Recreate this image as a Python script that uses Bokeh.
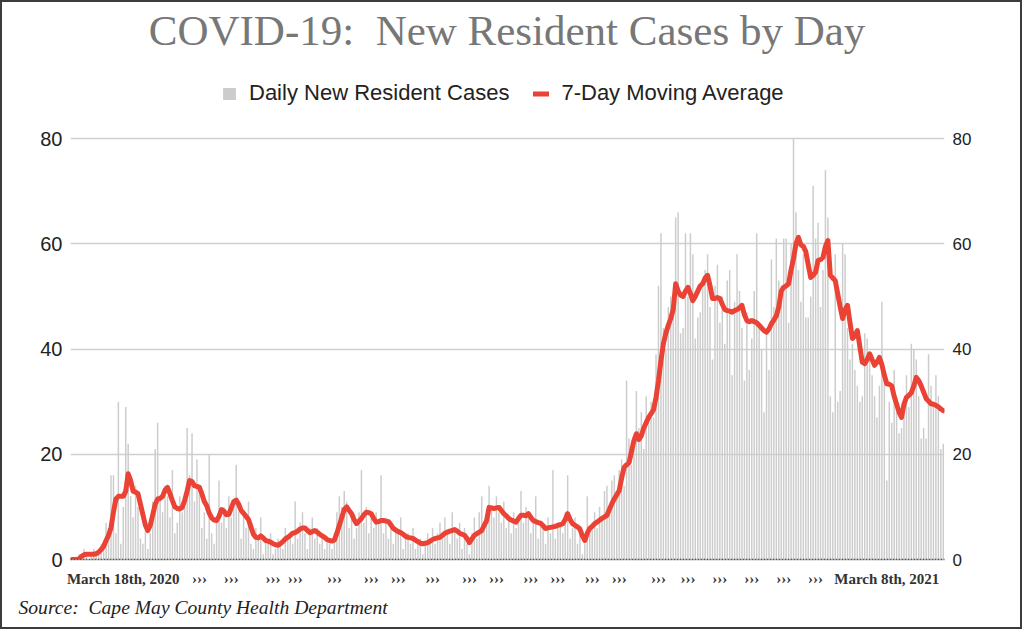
from bokeh.plotting import figure
from bokeh.models import (ColumnDataSource, Range1d, LinearAxis, FixedTicker,
                          Legend, LegendItem, Title, Label)
from bokeh.embed import file_html
from bokeh.resources import INLINE

# ---------------- data ----------------
daily_cases = [
    0, 0, 0, 1, 0, 2, 1, 0, 1, 2,
    1, 2, 3, 2, 7, 6, 16, 16, 5, 30,
    3, 10, 29, 22, 12, 8, 14, 10, 4, 3,
    6, 2, 5, 11, 21, 26, 12, 9, 14, 12,
    8, 17, 5, 7, 12, 9, 10, 25, 16, 24,
    11, 19, 14, 6, 9, 4, 20, 5, 3, 8,
    15, 7, 10, 6, 12, 8, 10, 18, 9, 4,
    9, 6, 11, 3, 2, 6, 4, 8, 1, 4,
    3, 5, 1, 2, 4, 3, 2, 6, 4, 5,
    3, 11, 4, 7, 9, 5, 2, 6, 8, 4,
    6, 3, 5, 2, 4, 3, 2, 5, 9, 12,
    10, 13, 11, 6, 8, 4, 6, 9, 17, 7,
    10, 5, 8, 6, 9, 7, 16, 5, 8, 4,
    7, 3, 6, 5, 8, 2, 4, 5, 3, 6,
    2, 3, 4, 1, 3, 5, 4, 6, 3, 5,
    7, 4, 8, 5, 3, 9, 6, 4, 7, 2,
    6, 3, 1, 5, 8, 4, 9, 12, 6, 9,
    14, 10, 8, 12, 9, 7, 11, 6, 8, 5,
    9, 6, 8, 13, 7, 10, 9, 5, 8, 12,
    4, 7, 6, 3, 8, 5, 17, 4, 6, 7,
    5, 9, 16, 4, 6, 8, 3, 5, 1, 3,
    12, 5, 7, 9, 6, 10, 8, 13, 14, 9,
    15, 16, 12, 17, 19, 14, 34, 23, 18, 23,
    32, 25, 28, 21, 31, 26, 30, 27, 39, 52,
    62, 44, 40, 48, 50, 46, 65, 66, 43, 44,
    62, 50, 62, 58, 42, 46, 47, 52, 55, 58,
    48, 38, 52, 56, 45, 50, 41, 53, 55, 35,
    49, 58, 51, 44, 34, 47, 36, 42, 51, 62,
    45, 40, 28, 44, 36, 57, 48, 61, 53, 52,
    61, 61, 45, 60, 80, 66, 55, 49, 58, 46,
    46, 50, 71, 61, 64, 48, 55, 74, 65, 31,
    28, 58, 30, 32, 60, 58, 44, 38, 41, 36,
    33, 30, 31, 43, 42, 38, 35, 31, 27, 33,
    49, 36, 15, 30, 26, 36, 28, 24, 25, 30,
    35, 29, 41, 40, 38, 31, 23, 25, 23, 39,
    33, 30, 35, 31, 21, 22,
]

moving_avg = [
    0, 0, 0, 0.1, 0.6, 0.9, 1, 1, 1, 1,
    1.1, 1.4, 1.9, 2.5, 3.6, 4.6, 6, 9, 11.5, 12,
    12, 12, 13, 16.3, 15, 13, 12.8, 12.5, 10.5, 8.5,
    6.5, 5.5, 6.5, 8.5, 10.5, 11.5, 11.6, 12, 13.2, 13.7,
    12.5, 11.2, 10, 9.7, 9.6, 9.9, 11.2, 13, 15, 14.8,
    14, 13.9, 13.7, 12.5, 11, 10.2, 8.8, 7.9, 7.5, 7.4,
    8.2, 9.5, 9.2, 8.5, 8.6, 9.8, 11, 11.3, 10.5, 9.3,
    8.8, 8.2, 7.6, 6.2, 4.8, 4.2, 4.1, 4.5, 4.1, 3.6,
    3.5, 3.3, 3.0, 2.8, 2.7, 3.0, 3.4, 3.9, 4.2, 4.6,
    5.0, 5.1, 5.4, 5.8, 6.0, 6.0, 5.5, 5.1, 5.3, 5.5,
    5.2, 4.8, 4.5, 4.2, 3.8, 3.6, 3.5, 3.7, 5.0, 6.5,
    8.0, 9.5, 10, 9.3, 8.7, 7.6, 6.8, 7.3, 7.8, 8.5,
    9, 8.9, 8.7, 7.8, 7.1, 7.2, 7.4, 7.4, 7.3, 7.2,
    6.6, 5.9, 5.6, 5.3, 5.1, 4.8, 4.4, 4.2, 4.1, 4.0,
    3.7, 3.4, 3.1, 3.0, 3.1, 3.2, 3.5, 3.8, 4.0, 4.1,
    4.2, 4.6, 5.0, 5.2, 5.4, 5.5, 5.7, 5.4, 5.0, 4.8,
    4.6, 4.0, 3.2, 3.9, 4.6, 4.9, 5.2, 5.5, 6.5, 7.4,
    9.9, 9.8, 9.7, 9.8, 9.9, 9.3, 8.7, 8.3, 7.8, 7.5,
    7.3, 7.1, 7.8, 8.4, 8.4, 8.3, 8.7, 8.0, 7.4, 7.2,
    7.0, 6.9, 6.4, 5.9, 6.0, 6.1, 6.2, 6.3, 6.5, 6.6,
    6.8, 7.6, 8.7, 7.6, 6.8, 6.5, 6.2, 5.8, 4.5, 3.6,
    5.0, 5.9, 6.3, 6.8, 7.1, 7.5, 7.8, 8.1, 8.4, 9.5,
    10.6, 11.5, 12.3, 13.1, 15.5, 17.5, 18.0, 18.4, 20.5, 22.6,
    23.9, 22.8, 23.5, 25, 26, 27, 27.7, 28.5, 30.8, 34,
    37.8, 41, 43, 44.5, 45.8, 47.5, 52.4, 51, 50.2, 50,
    51, 51.7, 50.5, 49.2, 50, 51, 52, 52.4, 53.5, 54,
    52, 49.6, 49.6, 49.8, 49.6, 48.5, 47.5, 47.3, 47.2, 47,
    47.3, 47.5, 47.8, 48.3, 46.5, 45.4, 45.2, 45.4, 45.2, 45,
    44.5, 44, 43.5, 43.2, 43.8, 44.8, 45.5, 46.3, 48, 51,
    51.7, 52, 52.4, 55, 57.2, 60, 61.2, 59.8, 59.5, 58.5,
    56, 53.6, 54, 54.6, 56.8, 57, 57.4, 59.5, 60.6, 54,
    53.5, 53, 50.5, 48, 45.8, 47.5, 48.3, 45, 42, 42.5,
    43.5, 40.5, 37.5, 37.2, 38, 39.1, 38, 36.9, 37.5, 38.4,
    37, 35, 33.4, 33.3, 33, 31, 29.5, 28, 27, 29.5,
    30.8, 31.2, 31.7, 33, 34.6, 34, 33, 31.8, 30.6, 30.1,
    29.6, 29.5, 29.3, 29, 28.6, 28.3,
]

day_index = list(range(len(daily_cases)))   # day 0 = March 18th, 2020

x_tick_labels = ["March 18th, 2020"] + ["\u203a\u203a\u203a"] * 20 + ["March 8th, 2021"]
y_ticks = [0, 20, 40, 60, 80]

series_names = ["Daily New Resident Cases", "7-Day Moving Average"]
title_text = "COVID-19:\u00a0 New Resident Cases by Day"
source_text = "Source:\u00a0 Cape May County Health Department"

# ---------------- layout ----------------
x_tick_positions = [21, 52, 65, 82, 91, 107, 122, 133, 147, 162, 173,
                    187, 198, 212, 223, 239, 251, 264, 277, 290, 303, 332]

FRAME_TOP, FRAME_80, FRAME_BOTTOM = 10, 138, 559     # page pixels
PX_PER_UNIT = (FRAME_BOTTOM - FRAME_80) / 80.0
Y_TOP = 80 + (FRAME_80 - FRAME_TOP) / PX_PER_UNIT
N = len(daily_cases)

src = ColumnDataSource(dict(day=day_index, daily=daily_cases, ma=moving_avg))

p = figure(width=1022, height=629, output_backend="svg", toolbar_location=None,
           title=None, x_range=Range1d(-0.5, N - 0.5),
           y_range=Range1d(0, Y_TOP),
           min_border_left=68, min_border_right=80,
           min_border_top=8, min_border_bottom=72)
p.styles = {"border": "2px solid #3c3c3c"}
p.outline_line_color = None
p.background_fill_color = "white"
p.border_fill_color = "white"

bars = p.vbar(x="day", top="daily", width=0.6, source=src,
              fill_color="#cccccc", line_color=None)
line = p.line(x="day", y="ma", source=src, line_width=5,
              line_color="#ea4335", line_join="round", line_cap="round")

# x axis (bottom)
xa = p.xaxis[0]
xa.ticker = FixedTicker(ticks=x_tick_positions)
xa.major_label_overrides = {t: lab for t, lab in zip(x_tick_positions, x_tick_labels)}
xa.major_tick_line_color = None
xa.major_tick_out = 0
xa.major_tick_in = 0
xa.minor_tick_line_color = None
xa.axis_line_color = "#555555"
xa.axis_line_width = 1.5
xa.axis_line_dash = "2 1"
xa.major_label_standoff = 11
xa.major_label_text_font = "Liberation Serif"
xa.major_label_text_font_style = "bold"
xa.major_label_text_font_size = "15px"
xa.major_label_text_color = "#333333"

# y axes
ya = p.yaxis[0]
ra = LinearAxis()
p.add_layout(ra, "right")
for ax in (ya, ra):
    ax.ticker = FixedTicker(ticks=y_ticks)
    ax.axis_line_color = None
    ax.major_tick_line_color = None
    ax.major_tick_out = 0
    ax.major_tick_in = 0
    ax.minor_tick_line_color = None
    ax.major_label_text_font = "Liberation Sans"
    ax.major_label_text_color = "#222222"
    ax.major_label_standoff = 8
ya.major_label_text_font_size = "20px"
ra.major_label_text_font_size = "17px"

p.xgrid.visible = False
p.ygrid.ticker = FixedTicker(ticks=y_ticks)
p.ygrid.grid_line_color = "#cfcfcf"
p.ygrid.grid_line_width = 1.5

legend = Legend(items=[LegendItem(label=series_names[0], renderers=[bars]),
                       LegendItem(label=series_names[1], renderers=[line])],
                orientation="horizontal", location=(151, 453),
                label_text_font="Liberation Sans", label_text_font_size="22px",
                label_text_color="#222222", label_height=22,
                glyph_width=16, glyph_height=15, label_standoff=12,
                spacing=24, padding=0, margin=0,
                border_line_color=None, background_fill_alpha=0)
p.add_layout(legend)

# title, drawn in the empty band above the value 80
title_x = -0.5 + (506.5 - 70) / (874 / N)
title_y = 80 + (FRAME_80 - 30) / PX_PER_UNIT
p.add_layout(Label(x=title_x, y=title_y, text=title_text,
                   text_font="Liberation Serif", text_font_size="43px",
                   text_color="#777777", text_align="center",
                   text_baseline="alphabetic"))

p.add_layout(Title(text=source_text, text_font="Liberation Serif",
                   text_font_size="19.6px", text_font_style="italic",
                   text_color="#222222", align="left", offset=-52), "below")

open("out.html", "w").write(file_html(p, INLINE))
